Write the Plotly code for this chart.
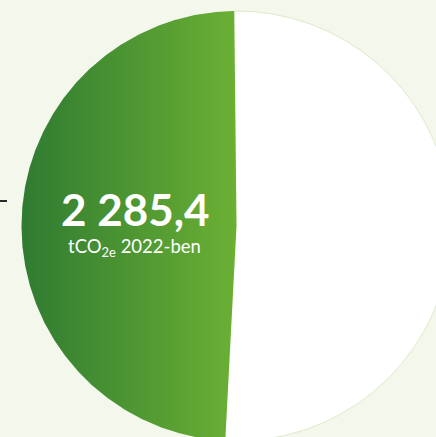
import numpy as np
import plotly.graph_objects as go

# ---- data ----
labels = ["2022", "többi"]
shares = [49.0, 51.0]          # percent of the disc
value_text = "2 285,4"
unit_text = "tCO<sub>2e</sub> 2022-ben"
slice_colors_left = "#2f7b31"
slice_colors_right = "#6bb034"
other_color = "#ffffff"
bg = "#f4f7ec"

W, H = 436, 437
R_PX = 215.0
CX_PX, CY_PX = 236.5, 226.0
start_deg = 90.6   # math angle where first slice starts (counter-clockwise)

def px_to_x(px):
    return (px - CX_PX) / R_PX

def px_to_y(py):
    return (CY_PX - py) / R_PX

total = sum(shares)
angles = [start_deg]
for s in shares:
    angles.append(angles[-1] + 360.0 * s / total)

def wedge(a0, a1, n=400):
    t = np.radians(np.linspace(a0, a1, n))
    xs = np.concatenate([[0.0], np.cos(t), [0.0]])
    ys = np.concatenate([[0.0], np.sin(t), [0.0]])
    return xs, ys

fig = go.Figure()

# white slice
xs, ys = wedge(angles[1], angles[2])
fig.add_trace(go.Scatter(
    x=xs, y=ys, mode="lines", fill="toself", fillcolor=other_color,
    line=dict(color="rgba(0,0,0,0)", width=0), hoverinfo="skip", name=labels[1]))
# faint outline of white slice arc
t = np.radians(np.linspace(angles[1], angles[2], 400))
fig.add_trace(go.Scatter(
    x=np.cos(t), y=np.sin(t), mode="lines",
    line=dict(color="#dcebc8", width=1), hoverinfo="skip", showlegend=False))

# green slice with horizontal gradient
xs, ys = wedge(angles[0], angles[1])
fig.add_trace(go.Scatter(
    x=xs, y=ys, mode="lines", fill="toself",
    fillgradient=dict(type="horizontal",
                      colorscale=[[0, slice_colors_left], [1, slice_colors_right]]),
    line=dict(color="rgba(0,0,0,0)", width=0), hoverinfo="skip", name=labels[0]))

fig.add_annotation(
    x=px_to_x(135), y=px_to_y(209), xref="x", yref="y",
    text="<b>" + value_text + "</b>", showarrow=False,
    font=dict(family="Lato", size=44, color="white"),
    xanchor="center", yanchor="middle")
fig.add_annotation(
    x=px_to_x(134.5), y=px_to_y(247), xref="x", yref="y",
    text=unit_text, showarrow=False,
    font=dict(family="Lato", size=18.5, color="white"),
    xanchor="center", yanchor="middle")

fig.add_shape(type="line", xref="paper", yref="paper",
              x0=0, x1=7 / W, y0=1 - 201 / H, y1=1 - 201 / H,
              line=dict(color="#2b2b2b", width=2))

fig.update_xaxes(range=[px_to_x(0), px_to_x(W)], visible=False, fixedrange=True)
fig.update_yaxes(range=[px_to_y(H), px_to_y(0)], visible=False, fixedrange=True)
fig.update_layout(
    width=W, height=H, margin=dict(l=0, r=0, t=0, b=0),
    paper_bgcolor=bg, plot_bgcolor=bg, showlegend=False)

fig.write_html("out.html", config={"displayModeBar": False},
               post_script="document.body.style.margin='0';"
                           "document.body.style.background='" + bg + "';")
